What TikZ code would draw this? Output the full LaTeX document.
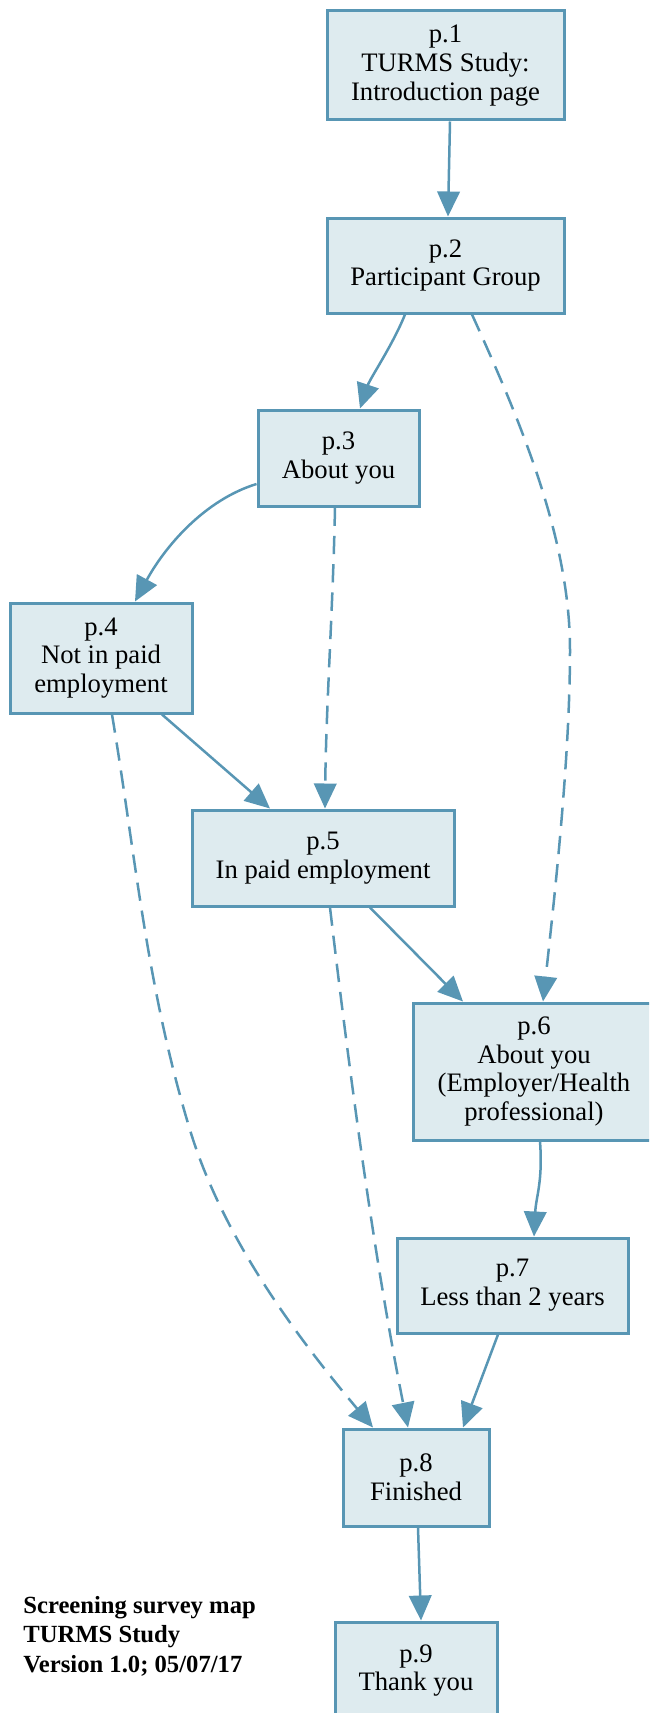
\documentclass[tikz,border=0pt]{standalone}
\usepackage{fontspec}
\setmainfont{Liberation Serif}
\usetikzlibrary{arrows.meta,calc}
\definecolor{edgeblue}{RGB}{88,150,180}
\definecolor{boxfill}{RGB}{222,235,239}

\begin{document}
\begin{tikzpicture}[x=0.6pt,y=-0.6pt,
  page/.style={draw=edgeblue, fill=boxfill, line width=1.8pt, align=center,
    inner sep=0pt, font=\fontsize{16}{17.3}\selectfont},
  size/.style 2 args={minimum width=#1*0.6pt, minimum height=#2*0.6pt},
  link/.style={draw=edgeblue, line width=1.5pt,
    -{Triangle[length=15pt,width=13.5pt]}},
  optional/.style={link, dash pattern=on 11pt off 6pt}]

% page area
\useasboundingbox (0,0) rectangle (649,1713);
\clip (0,0) rectangle (649,1713);

% survey pages
\node[page, size={237}{109}] (p1) at (445.5,65.5) {p.1\\TURMS Study:\\Introduction page};
\node[page, size={237}{95}]  (p2) at (445.5,265.5) {p.2\\Participant Group};
\node[page, size={161}{96}]  (p3) at (338.5,458) {p.3\\About you};
\node[page, size={182}{110}] (p4) at (101,658) {p.4\\Not in paid\\employment};
\node[page, size={262}{96}]  (p5) at (323,858) {p.5\\In paid employment};
\node[page, size={242}{137}] (p6) at (534,1071.5) {p.6\\About you\\(Employer/Health\\professional)};
\node[page, size={231}{95}]  (p7) at (512.5,1285.5) {p.7\\Less than 2 years};
\node[page, size={146}{97}]  (p8) at (416,1477.5) {p.8\\Finished};
\node[page, size={162}{97}]  (p9) at (416,1670.5) {p.9\\Thank you};

% caption
\node[anchor=west, align=left, inner sep=0pt,
  font=\bfseries\fontsize{14.8}{17.7}\selectfont] (legend) at (23,1636)
  {Screening survey map\\TURMS Study\\Version 1.0; 05/07/17};

% routes between pages
\coordinate (bend26) at (570,650);
\coordinate (bend48) at (190,1130);

\draw[link] ($(p1.south)+(4.5,0)$) -- ($(p2.north)+(2.5,0)$);
\draw[link] ($(p2.south)+(-40.5,0)$) .. controls +(-12,30) and +(10,-30) .. ($(p3.north)+(21.5,0)$);
\draw[optional] ($(p2.south)+(26.5,0)$) .. controls +(50,110) and (570,540) .. (bend26)
  .. controls (570,760) and +(11,-100) .. ($(p6.north)+(9,0)$);
\draw[link] ($(p3.west)+(0,26)$) .. controls +(-52,16) and +(30,-55) .. ($(p4.north)+(34,0)$);
\draw[optional] ($(p3.south)+(-3.5,0)$) .. controls +(-2,100) and +(1,-100) .. ($(p5.north)+(2,0)$);
\draw[link] ($(p4.south)+(61,0)$) -- ($(p5.north)+(-53,0)$);
\draw[optional] ($(p4.south)+(11,0)$) .. controls +(23.5,140) and (146,985) .. (bend48)
  .. controls (222,1235) and +(-80,-95) .. ($(p8.north)+(-43,0)$);
\draw[optional] ($(p5.south)+(7,0)$) .. controls +(20,170) and +(-34,-170) .. ($(p8.north)+(-8,0)$);
\draw[link] ($(p5.south)+(47,0)$) -- ($(p6.north)+(-71,0)$);
\draw[link] ($(p6.south)+(6,0)$) .. controls +(3,40) and +(2,-40) .. ($(p7.north)+(21.5,0)$);
\draw[link] ($(p7.south)+(-14.5,0)$) -- ($(p8.north)+(47,0)$);
\draw[link] ($(p8.south)+(2,0)$) -- ($(p9.north)+(5,0)$);
\end{tikzpicture}
\end{document}
